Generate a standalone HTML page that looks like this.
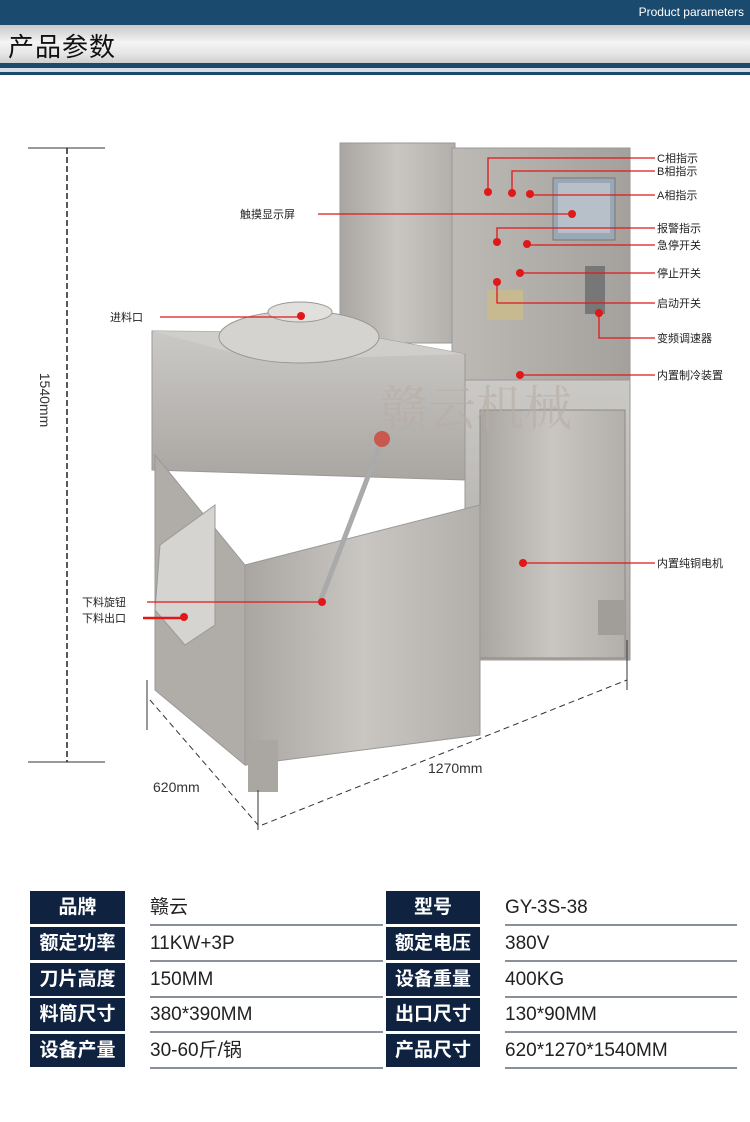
<!DOCTYPE html>
<html><head><meta charset="utf-8"><style>
body{margin:0;width:750px;height:1122px;background:#fff;position:relative;overflow:hidden;font-family:"Liberation Sans","Noto Sans CJK SC",sans-serif}
.hb{position:absolute;left:0;top:0;width:750px;height:25px;background:#1a4a6e}
.pp{position:absolute;right:6px;top:5px;color:#fff;font-size:12px}
.hg{position:absolute;left:0;top:25px;width:750px;height:38px;background:linear-gradient(#c8c8c8,#f4f4f4 45%,#e6e6e6 75%,#cfcfcf)}
.ht{position:absolute;left:8px;top:27px;font-size:26px;color:#111;letter-spacing:1px}
.l1{position:absolute;left:0;top:63px;width:750px;height:5px;background:#1a4a6e}
.l2{position:absolute;left:0;top:68px;width:750px;height:4px;background:#d8dde2}
.l3{position:absolute;left:0;top:72px;width:750px;height:3px;background:#1a4a6e}
.c{position:absolute;background:#0f2340;color:#fff;font-size:19px;text-align:center;font-weight:bold;line-height:33px;height:33px}
.v{position:absolute;font-size:19px;color:#222;line-height:33px;height:33px;border-bottom:2px solid #8a9099}
</style></head><body>
<div class="hb"></div><div class="pp">Product parameters</div>
<div class="hg"></div><div class="ht">产品参数</div>
<div class="l1"></div><div class="l2"></div><div class="l3"></div>
<svg width="750" height="880" style="position:absolute;left:0;top:0" font-family="Liberation Sans,Noto Sans CJK SC,sans-serif">
<defs>
<linearGradient id="g1" x1="0" x2="1"><stop offset="0" stop-color="#a9a6a2"/><stop offset=".5" stop-color="#c9c6c2"/><stop offset="1" stop-color="#b2afab"/></linearGradient>
<linearGradient id="g2" x1="0" x2="1"><stop offset="0" stop-color="#bdbab6"/><stop offset="1" stop-color="#a4a19d"/></linearGradient>
<linearGradient id="g3" y1="0" y2="1" x1="0" x2="0"><stop offset="0" stop-color="#cbc9c6"/><stop offset="1" stop-color="#a9a6a2"/></linearGradient>
</defs>
<!-- height dim -->
<line x1="28" y1="148" x2="105" y2="148" stroke="#333"/><line x1="28" y1="762" x2="105" y2="762" stroke="#333"/>
<line x1="67" y1="148" x2="67" y2="762" stroke="#222" stroke-dasharray="6,3" stroke-width="1.5"/>
<text x="40" y="400" font-size="14" fill="#333" transform="rotate(90 40 400)" text-anchor="middle">1540mm</text>
<!-- back cabinet -->
<rect x="340" y="143" width="115" height="200" fill="url(#g1)" stroke="#999"/>
<rect x="452" y="148" width="178" height="250" fill="url(#g2)" stroke="#999"/>
<rect x="553" y="178" width="62" height="62" fill="#9aa7b4" stroke="#777"/><rect x="558" y="183" width="52" height="50" fill="#b7c0c8"/>
<rect x="585" y="266" width="20" height="48" fill="#777"/>
<rect x="487" y="290" width="36" height="30" fill="#c7b990"/>
<!-- lower right cabinet -->
<rect x="465" y="380" width="165" height="280" fill="url(#g3)" stroke="#999"/>
<rect x="480" y="410" width="145" height="248" fill="url(#g1)" stroke="#8d8a86"/>
<rect x="598" y="600" width="27" height="35" fill="#a19e9a"/>
<!-- hopper box -->
<polygon points="152,331 350,333 465,354 465,480 152,470" fill="url(#g3)" stroke="#999"/>
<polygon points="152,331 350,333 465,354 260,360" fill="#d0cecb"/>
<ellipse cx="299" cy="337" rx="80" ry="26" fill="#d5d3d0" stroke="#9a9894"/>
<ellipse cx="300" cy="312" rx="32" ry="10" fill="#e2e0dd" stroke="#9a9894"/>
<!-- base -->
<polygon points="155,455 245,565 245,765 155,690" fill="#b0ada9" stroke="#999"/>
<polygon points="245,565 480,505 480,735 245,765" fill="url(#g1)" stroke="#999"/>
<rect x="248" y="740" width="30" height="52" fill="#aaa7a3"/>
<polygon points="160,545 215,505 215,625 185,645 155,610" fill="#d6d4d1" stroke="#999"/>
<line x1="320" y1="602" x2="382" y2="440" stroke="#aaa" stroke-width="5"/>
<circle cx="382" cy="439" r="8" fill="#c9584e"/>
<!-- watermark -->
<text x="380" y="425" font-size="48" fill="#b8aea5" opacity=".6" font-family="Noto Serif CJK SC,serif">赣云机械</text>
<!-- dims bottom -->
<line x1="147" y1="680" x2="147" y2="730" stroke="#333"/><line x1="258" y1="790" x2="258" y2="830" stroke="#333"/><line x1="627" y1="640" x2="627" y2="690" stroke="#333"/>
<line x1="150" y1="700" x2="258" y2="825" stroke="#333" stroke-dasharray="6,4"/>
<line x1="262" y1="825" x2="627" y2="680" stroke="#333" stroke-dasharray="6,4"/>
<text x="153" y="792" font-size="14" fill="#333">620mm</text>
<text x="428" y="773" font-size="14" fill="#333">1270mm</text>
<!-- callouts -->
<g stroke="#e01818" stroke-width="1.3" fill="none">
<polyline points="488,192 488,158 655,158"/><polyline points="512,193 512,171 655,171"/><line x1="530" y1="195" x2="655" y2="195"/>
<line x1="318" y1="214" x2="570" y2="214"/><polyline points="497,242 497,228 655,228"/><line x1="527" y1="245" x2="655" y2="245"/>
<line x1="520" y1="273" x2="655" y2="273"/><polyline points="497,282 497,303 655,303"/><polyline points="599,313 599,338 655,338"/>
<line x1="520" y1="375" x2="655" y2="375"/><line x1="523" y1="563" x2="655" y2="563"/>
<line x1="160" y1="317" x2="300" y2="317"/><line x1="147" y1="602" x2="322" y2="602"/><line x1="143" y1="618" x2="183" y2="618" stroke-width="2.5"/>
</g>
<g fill="#e01818"><circle cx="488" cy="192" r="4"/><circle cx="512" cy="193" r="4"/><circle cx="530" cy="194" r="4"/><circle cx="572" cy="214" r="4"/><circle cx="497" cy="242" r="4"/><circle cx="527" cy="244" r="4"/><circle cx="520" cy="273" r="4"/><circle cx="497" cy="282" r="4"/><circle cx="599" cy="313" r="4"/><circle cx="520" cy="375" r="4"/><circle cx="523" cy="563" r="4"/><circle cx="301" cy="316" r="4"/><circle cx="322" cy="602" r="4"/><circle cx="184" cy="617" r="4"/></g>
<g font-size="11" fill="#222">
<text x="657" y="162">C相指示</text><text x="657" y="175">B相指示</text><text x="657" y="199">A相指示</text>
<text x="657" y="232">报警指示</text><text x="657" y="249">急停开关</text><text x="657" y="277">停止开关</text>
<text x="657" y="307">启动开关</text><text x="657" y="342">变频调速器</text><text x="657" y="379">内置制冷装置</text><text x="657" y="567">内置纯铜电机</text>
<text x="240" y="218">触摸显示屏</text><text x="110" y="321">进料口</text><text x="82" y="606">下料旋钮</text><text x="82" y="622">下料出口</text>
</g>
</svg>
<div class="c" style="left:30px;top:891px;width:95px">品牌</div><div class="v" style="left:150px;top:891px;width:233px">赣云</div>
<div class="c" style="left:386px;top:891px;width:94px">型号</div><div class="v" style="left:505px;top:891px;width:232px">GY-3S-38</div>
<div class="c" style="left:30px;top:927px;width:95px">额定功率</div><div class="v" style="left:150px;top:927px;width:233px">11KW+3P</div>
<div class="c" style="left:386px;top:927px;width:94px">额定电压</div><div class="v" style="left:505px;top:927px;width:232px">380V</div>
<div class="c" style="left:30px;top:963px;width:95px">刀片高度</div><div class="v" style="left:150px;top:963px;width:233px">150MM</div>
<div class="c" style="left:386px;top:963px;width:94px">设备重量</div><div class="v" style="left:505px;top:963px;width:232px">400KG</div>
<div class="c" style="left:30px;top:998px;width:95px">料筒尺寸</div><div class="v" style="left:150px;top:998px;width:233px">380*390MM</div>
<div class="c" style="left:386px;top:998px;width:94px">出口尺寸</div><div class="v" style="left:505px;top:998px;width:232px">130*90MM</div>
<div class="c" style="left:30px;top:1034px;width:95px">设备产量</div><div class="v" style="left:150px;top:1034px;width:233px">30-60斤/锅</div>
<div class="c" style="left:386px;top:1034px;width:94px">产品尺寸</div><div class="v" style="left:505px;top:1034px;width:232px">620*1270*1540MM</div>
</body></html>
